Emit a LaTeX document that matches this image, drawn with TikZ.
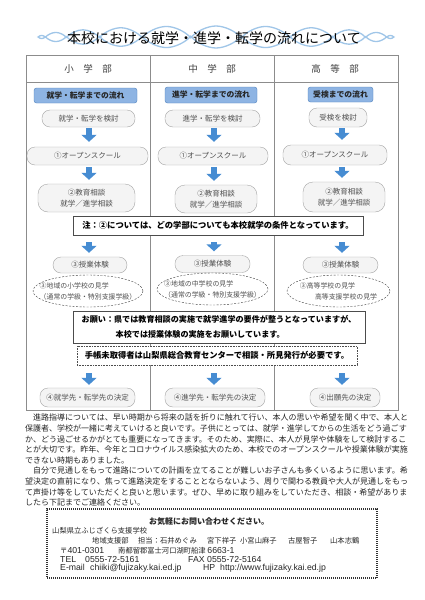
\documentclass[tikz,border=0pt]{standalone}
\usepackage{fontspec}
\setmainfont{Noto Sans CJK JP}
\newfontfamily\latinfont{Liberation Sans}
\usetikzlibrary{shapes.symbols,shapes.geometric,arrows.meta}
\definecolor{cloudblue}{RGB}{160,198,232}
\definecolor{flowblue}{RGB}{70,140,210}
\definecolor{headfill}{RGB}{142,180,227}
\definecolor{headline}{RGB}{79,129,189}
\definecolor{tablegray}{RGB}{140,140,140}
\definecolor{pillgray}{RGB}{166,166,166}
\definecolor{pillfill}{RGB}{244,244,244}
\definecolor{pilltext}{RGB}{80,80,80}
\newcommand{\latn}[1]{{\latinfont\fontsize{8.7}{10}\selectfont #1}}

\begin{document}
\begin{tikzpicture}[x=1pt,y=-1pt,
    pill/.style={draw=pillgray,fill=pillfill,rounded corners=8pt,text=pilltext,inner sep=0pt,align=center,font=\fontsize{7.5}{11}\selectfont},
    flowhead/.style={draw=headline,fill=headfill,rounded corners=2.5pt,inner sep=0pt,text=black!85,font=\bfseries\fontsize{7.8}{10}\selectfont},
    visit/.style={ellipse,draw=black!75,dash pattern=on 2pt off 1.5pt,fill=white,inner sep=0pt},
    visittext/.style={inner sep=0pt,align=left,text=pilltext,font=\fontsize{6.9}{11}\selectfont},
    flow/.style={draw=flowblue,line width=6pt,-{Triangle[width=15pt,length=7pt]}},
    notice/.style={draw=black!70,fill=white,inner sep=0pt,font=\bfseries\fontsize{8.3}{10}\selectfont},
    colhead/.style={text=black!75,font=\fontsize{9.5}{11}\selectfont},
    ctext/.style={anchor=west,inner sep=0pt,text=black!85,font=\fontsize{7.3}{9}\selectfont}]
% Page
\useasboundingbox (0,0) rectangle (424,600);
\fill[white] (0,0) rectangle (424,600);

% Title
\node[cloud, cloud puffs=22, cloud puff arc=100, aspect=16, draw=cloudblue, line width=1.3pt,
      minimum width=352pt, minimum height=22pt, inner sep=0pt] (cloud) at (216,37) {};
\node[font=\fontsize{14}{16}\selectfont] (title) at (214,38.5) {本校における就学・進学・転学の流れについて};

% Table
\draw[tablegray, line width=0.8pt] (26,55) rectangle (398,410);
\draw[tablegray, line width=0.8pt] (26,82) -- (398,82);
\draw[tablegray, line width=0.8pt] (150,55) -- (150,410);
\draw[tablegray, line width=0.8pt] (274,55) -- (274,410);
\node[colhead] (h1) at (88,69) {小　学　部};
\node[colhead] (h2) at (212,69) {中　学　部};
\node[colhead] (h3) at (335,69) {高　等　部};
\coordinate (col1) at (89,0);
\coordinate (col2) at (214,0);
\coordinate (col3) at (342,0);

% Elementary
\node[flowhead, minimum width=103pt, minimum height=15pt] (b1) at (85.5,95.5) {就学・転学までの流れ};
\node[pill, minimum width=93pt, minimum height=17pt] (k1) at (88.5,118.5) {就学・転学を検討};
\node[pill, minimum width=121pt, minimum height=18pt] (o1) at (87.5,156) {①オープンスクール};
\node[pill, minimum width=97pt, minimum height=28pt, rounded corners=10pt] (s1) at (86.5,198) {②教育相談\\就学／進学相談};
\node[pill, minimum width=74pt, minimum height=16pt] (t1) at (90,265) {③授業体験};
\node[visit, minimum width=110pt, minimum height=32pt] (e1) at (88,291) {};
\node[visittext] (e1t) at (e1.center) {③地域の小学校の見学\\（通常の学級・特別支援学級）};
\node[pill, minimum width=95pt, minimum height=19pt] (d1) at (87.5,397.5) {④就学先・転学先の決定};

% Junior high
\node[flowhead, minimum width=92pt, minimum height=16pt] (b2) at (211,95) {進学・転学までの流れ};
\node[pill, minimum width=95pt, minimum height=17pt] (k2) at (212.5,118.5) {進学・転学を検討};
\node[pill, minimum width=110pt, minimum height=18pt] (o2) at (213,156) {①オープンスクール};
\node[pill, minimum width=82pt, minimum height=28pt, rounded corners=10pt] (s2) at (216,199) {②教育相談\\就学／進学相談};
\node[pill, minimum width=75pt, minimum height=17pt] (t2) at (212.5,264) {③授業体験};
\node[visit, minimum width=111pt, minimum height=32pt] (e2) at (212.5,289) {};
\node[visittext] (e2t) at (e2.center) {③地域の中学校の見学\\（通常の学級・特別支援学級）};
\node[pill, minimum width=100pt, minimum height=19pt] (d2) at (215,397.5) {④進学先・転学先の決定};

% High
\node[flowhead, minimum width=65pt, minimum height=15pt] (b3) at (340.5,94.5) {受検までの流れ};
\node[pill, minimum width=58pt, minimum height=19pt] (k3) at (338,117.5) {受検を検討};
\node[pill, minimum width=104pt, minimum height=20pt] (o3) at (335,155) {①オープンスクール};
\node[pill, minimum width=82pt, minimum height=30pt, rounded corners=10pt] (s3) at (344,197) {②教育相談\\就学／進学相談};
\node[pill, minimum width=75pt, minimum height=16pt] (t3) at (340.5,265) {③授業体験};
\node[visit, minimum width=103pt, minimum height=32pt] (e3) at (338.5,291) {};
\node[visittext] (e3t) at (e3.center) {③高等学校の見学\\\hspace*{2.2em}高等支援学校の見学};
\node[pill, minimum width=70pt, minimum height=19pt] (d3) at (345,397.5) {④出願先の決定};

% Notes across the columns
\node[notice, minimum width=290pt, minimum height=19pt] (note) at (218,225.5)
  {注：②については、どの学部についても本校就学の条件となっています。};
\node[notice, minimum width=292pt, minimum height=32pt, align=left, inner xsep=4.5pt,
      font=\bfseries\fontsize{8.1}{15}\selectfont] (ask) at (219,327)
  {お願い：県では教育相談の実施で就学進学の要件が整うとなっていますが、\\\hspace*{4.2em}本校では授業体験の実施をお願いしています。};
\node[notice, dash pattern=on 0.8pt off 0.8pt, minimum width=280pt, minimum height=19pt] (hand) at (217,355.5)
  {手帳未取得者は山梨県総合教育センターで相談・所見発行が必要です。};

% Arrows
\draw[flow, shorten <=1pt, shorten >=5pt] (k1.south -| col1) -- (o1.north -| col1);
\draw[flow, shorten <=2pt, shorten >=4pt] (o1.south -| col1) -- (s1.north -| col1);
\draw[flow, shorten <=7pt, shorten >=4pt] (note.south -| col1) -- (t1.north -| col1);
\draw[flow, shorten <=8pt, shorten >=3pt] (hand.south -| col1) -- (d1.north -| col1);
\draw[flow, shorten <=1pt, shorten >=5pt] (k2.south -| col2) -- (o2.north -| col2);
\draw[flow, shorten <=2pt, shorten >=4pt] (o2.south -| col2) -- (s2.north -| col2);
\draw[flow, shorten <=7pt, shorten >=4pt] (note.south -| col2) -- (t2.north -| col2);
\draw[flow, shorten <=8pt, shorten >=3pt] (hand.south -| col2) -- (d2.north -| col2);
\draw[flow, shorten <=1pt, shorten >=5pt] (k3.south -| col3) -- (o3.north -| col3);
\draw[flow, shorten <=2pt, shorten >=4pt] (o3.south -| col3) -- (s3.north -| col3);
\draw[flow, shorten <=7pt, shorten >=4pt] (note.south -| col3) -- (t3.north -| col3);
\draw[flow, shorten <=8pt, shorten >=3pt] (hand.south -| col3) -- (d3.north -| col3);

% Text
\node[anchor=north west, inner sep=0pt, align=left, text=black!85, font=\fontsize{8}{10.6}\selectfont] (para) at (25,414)
  {　進路指導については、早い時期から将来の話を折りに触れて行い、本人の思いや希望を聞く中で、本人と\\
   保護者、学校が一緒に考えていけると良いです。子供にとっては、就学・進学してからの生活をどう過ごす\\
   か、どう過ごせるかがとても重要になってきます。そのため、実際に、本人が見学や体験をして検討するこ\\
   とが大切です。昨年、今年とコロナウイルス感染拡大のため、本校でのオープンスクールや授業体験が実施\\
   できない時期もありました。\\
   　自分で見通しをもって進路についての計画を立てることが難しいお子さんも多くいるように思います。希\\
   望決定の直前になり、焦って進路決定をすることとならないよう、周りで関わる教員や大人が見通しをもっ\\
   て声掛け等をしていただくと良いと思います。ぜひ、早めに取り組みをしていただき、相談・希望がありま\\
   したら下記までご連絡ください。};

% Contact
\node[draw=black!80, line width=1.1pt, dash pattern=on 1pt off 1pt, minimum width=330pt, minimum height=69pt, inner sep=0pt] (contact) at (212,543.5) {};
\node[ctext, anchor=center, font=\bfseries\fontsize{8}{9}\selectfont] (call) at (209,522) {お気軽にお問い合わせください。};
\node[ctext] (school) at (52,531) {山梨県立ふじざくら支援学校};
\node[ctext] (staff) at (92,541) {\makebox[46pt][l]{地域支援部}\makebox[69pt][l]{担当：石井めぐみ}\makebox[33pt][l]{宮下祥子}\makebox[48pt][l]{小宮山麻子}\makebox[42pt][l]{古屋智子}山本志鶴};
\node[ctext] (addr) at (60,551) {\makebox[58pt][l]{〒\latn{401-0301}}南都留郡富士河口湖町船津 \latn{6663-1}};
\node[ctext] (tel) at (60,559.5) {\makebox[25pt][l]{\latn{TEL}}\makebox[103pt][l]{\latn{0555-72-5161}}\makebox[19pt][l]{\latn{FAX}}\latn{0555-72-5164}};
\node[ctext] (mail) at (60,568) {\makebox[30pt][l]{\latn{E-mail}}\makebox[113pt][l]{\latn{chiiki@fujizaky.kai.ed.jp}}\makebox[17pt][l]{\latn{HP}}\latn{http://www.fujizaky.kai.ed.jp}};
\end{tikzpicture}
\end{document}
